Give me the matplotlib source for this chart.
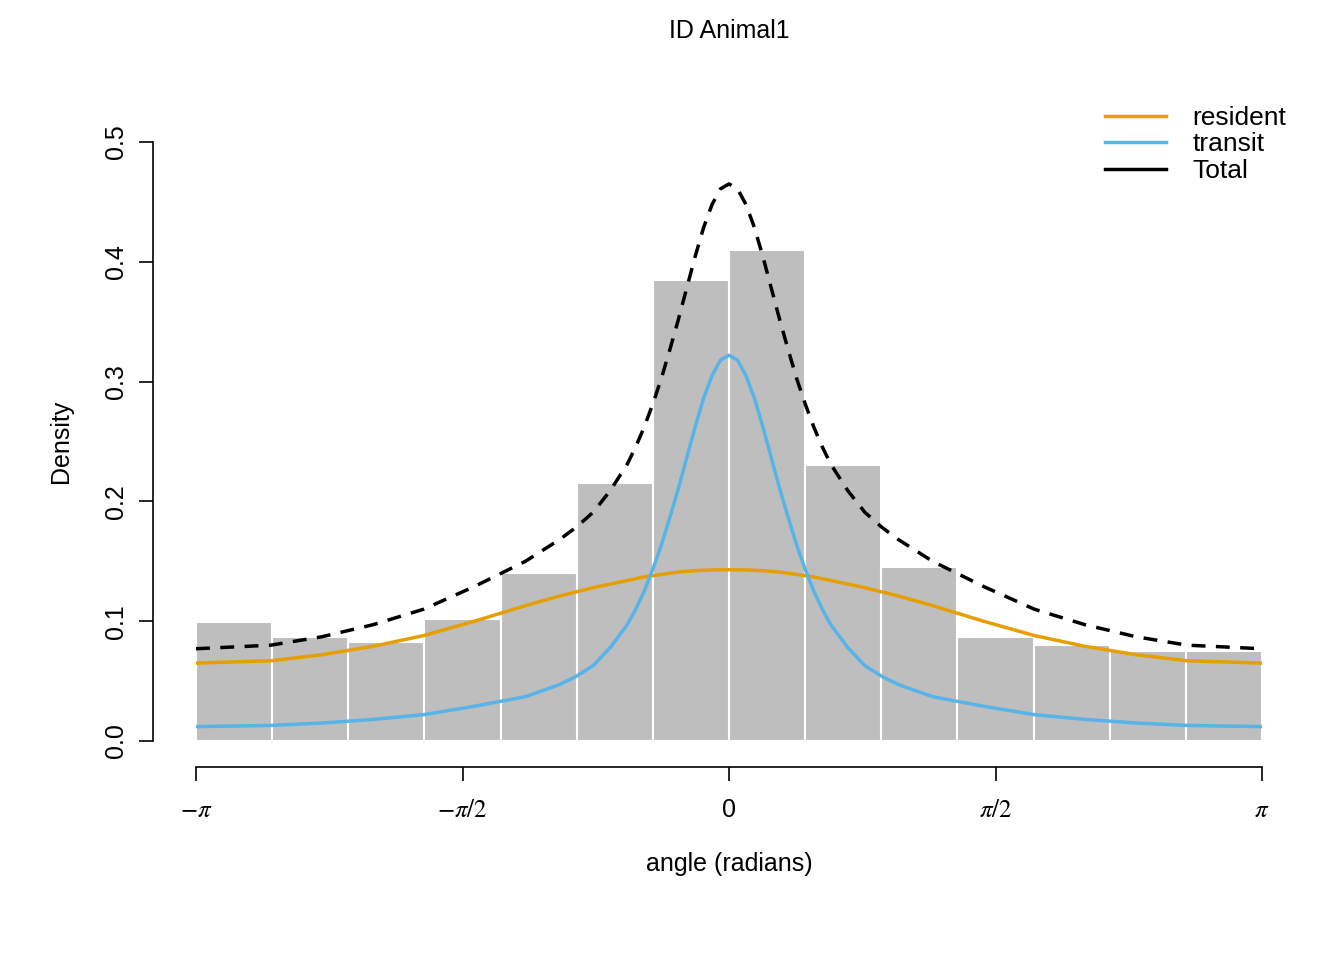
import numpy as np
import matplotlib
matplotlib.use("Agg")
import matplotlib.pyplot as plt

plt.rcParams["font.family"] = ["Liberation Sans", "DejaVu Sans"]
plt.rcParams["mathtext.fontset"] = "stix"

# histogram densities, 14 equal bins over [-pi, pi]
hist_density = [0.099, 0.087, 0.083, 0.102, 0.140, 0.215, 0.385,
                0.410, 0.230, 0.145, 0.087, 0.080, 0.075, 0.075]

# curve samples (half, x >= 0); mirrored for x < 0
x_half = [0, 0.05, 0.1, 0.15, 0.2, 0.25, 0.3, 0.35, 0.4, 0.45, 0.5, 0.55, 0.6,
          0.7, 0.8, 0.9, 1.0, 1.2, 1.5, 1.8, 2.1, 2.4, 2.7, np.pi]
resident_half = [0.143, 0.1429, 0.1428, 0.1425, 0.1422, 0.1416, 0.141, 0.140,
                 0.139, 0.138, 0.137, 0.1355, 0.134, 0.131, 0.128, 0.1245, 0.121,
                 0.113, 0.100, 0.088, 0.079, 0.072, 0.067, 0.065]
transit_half = [0.322, 0.318, 0.305, 0.286, 0.262, 0.236, 0.210, 0.186, 0.163,
                0.143, 0.125, 0.110, 0.097, 0.078, 0.063, 0.054, 0.047, 0.037,
                0.029, 0.022, 0.018, 0.015, 0.013, 0.012]

xh = np.array(x_half)
x = np.concatenate([-xh[::-1], xh[1:]])
resident = np.concatenate([resident_half[::-1], resident_half[1:]])
transit = np.concatenate([transit_half[::-1], transit_half[1:]])
total = resident + transit

W, H = 1344, 960
fig = plt.figure(figsize=(W / 100, H / 100), dpi=100)
ax = fig.add_axes([196 / W, 1 - 741 / H, (1262 - 196) / W, (741 - 142) / H])

edges = np.linspace(-np.pi, np.pi, len(hist_density) + 1)
ax.bar(edges[:-1], hist_density, width=np.diff(edges), align="edge",
       color="#BEBEBE", edgecolor="white", linewidth=1.5)
ax.plot(x, resident, color="#E69F00", lw=2.5, label="resident")
ax.plot(x, transit, color="#56B4E9", lw=2.5, label="transit")
ax.plot(x, total, color="black", lw=2.5, ls=(0, (4, 3)))
ax.plot([], [], color="black", lw=2.5, label="Total")

ax.set_xlim(-np.pi, np.pi)
ax.set_ylim(0, 0.5)
for s in ["top", "right"]:
    ax.spines[s].set_visible(False)
ax.spines["left"].set_position(("outward", 31))
ax.spines["bottom"].set_position(("outward", 19))
ax.spines["left"].set_linewidth(1.2)
ax.spines["bottom"].set_linewidth(1.2)
ax.set_xticks([-np.pi, -np.pi / 2, 0, np.pi / 2, np.pi])
ax.set_xticklabels([r"$-\pi$", r"$-\pi/2$", "0", r"$\pi/2$", r"$\pi$"])
ax.set_yticks([0, 0.1, 0.2, 0.3, 0.4, 0.5])
ax.set_yticklabels(["0.0", "0.1", "0.2", "0.3", "0.4", "0.5"], rotation=90, va="center")
ax.tick_params(labelsize=18, length=10, width=1.2, pad=8)
ax.tick_params(axis="x", pad=12)
ax.set_xlabel("angle (radians)", fontsize=18, labelpad=22)
ax.set_ylabel("Density", fontsize=18, labelpad=22)
fig.text((196 + 1262) / 2 / W, 1 - 31 / H, "ID Animal1", ha="center", va="center", fontsize=18)
ax.legend(loc="upper right", bbox_to_anchor=(1.045, 1.1), frameon=False, fontsize=19,
          handlelength=2.3, handletextpad=1.0, labelspacing=0.1)
fig.savefig("out.png", dpi=100)
